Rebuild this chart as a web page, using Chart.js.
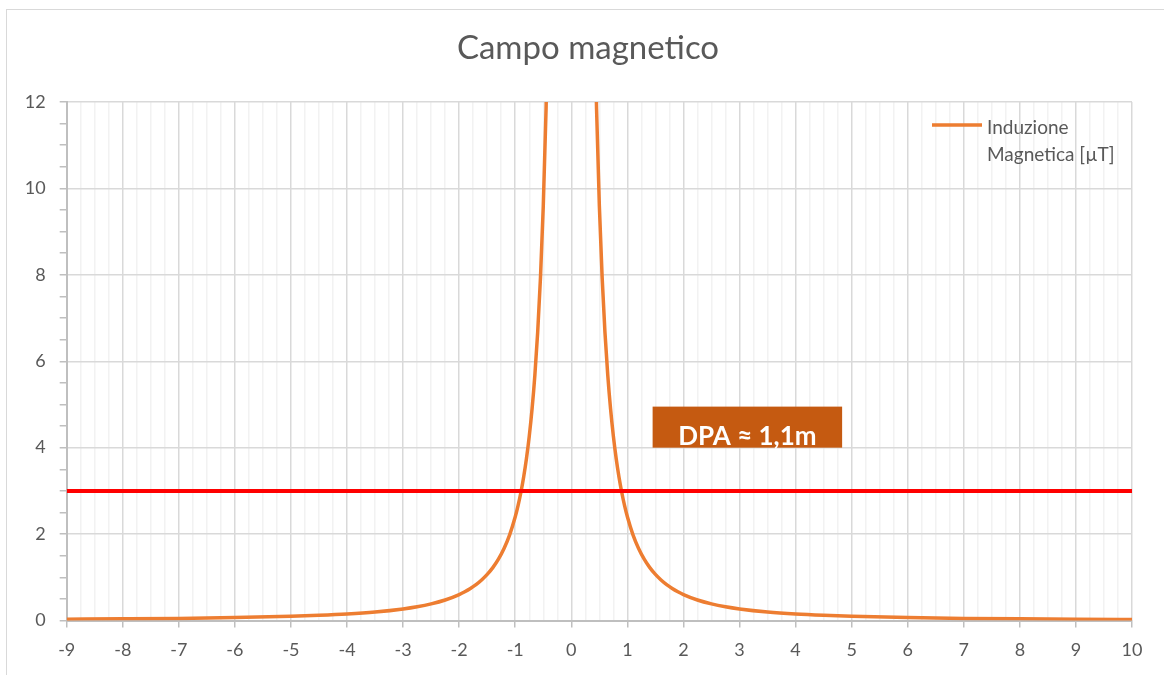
<!DOCTYPE html>
<html>
<head>
<meta charset="utf-8">
<script src="https://cdn.jsdelivr.net/npm/chart.js@4.4.1/dist/chart.umd.min.js"></script>
<style>
  html, body { margin: 0; padding: 0; background: #ffffff; }
  body { width: 1164px; height: 675px; position: relative; overflow: hidden; }
  #frame { position: absolute; left: 6px; top: 9px; width: 1170px; height: 700px; border: 1.5px solid #d9d9d9; box-sizing: border-box; }
  #c { position: absolute; left: 0; top: 0; }
</style>
</head>
<body>
<div id="frame"></div>
<canvas id="c" width="1164" height="675"></canvas>
<script>
// ---- data ----
const chartTitle = 'Campo magnetico';
const seriesName = 'Induzione Magnetica [µT]';
const distance = [
  -9, -8, -7, -6, -5, -4.5, -4, -3.5, -3, -2.75, -2.5, -2.25, -2, -1.9, -1.8, -1.7, -1.6, -1.5,
  -1.4, -1.3, -1.2, -1.1, -1.0, -0.95, -0.9, -0.85, -0.8, -0.75, -0.7, -0.65, -0.6, -0.55, -0.5,
  -0.45, -0.4, -0.35, -0.3,
  0.3, 0.35, 0.4, 0.45, 0.5, 0.55, 0.6, 0.65, 0.7, 0.75, 0.8, 0.85, 0.9, 0.95, 1.0, 1.1, 1.2,
  1.3, 1.4, 1.5, 1.6, 1.7, 1.8, 1.9, 2, 2.25, 2.5, 2.75, 3, 3.5, 4, 4.5, 5, 6, 7, 8, 9, 10
];
const induction = [
  0.030, 0.038, 0.049, 0.067, 0.096, 0.119, 0.150, 0.196, 0.267, 0.317, 0.384, 0.474, 0.600, 0.665, 0.741, 0.830, 0.938, 1.067,
  1.224, 1.420, 1.667, 1.983, 2.400, 2.659, 2.963, 3.322, 3.750, 4.267, 4.898, 5.680, 6.667, 7.934, 9.600,
  11.85, 15.00, 19.59, 26.67,
  26.67, 19.59, 15.00, 11.85, 9.600, 7.934, 6.667, 5.680, 4.898, 4.267, 3.750, 3.322, 2.963, 2.659, 2.400, 1.983, 1.667,
  1.420, 1.224, 1.067, 0.938, 0.830, 0.741, 0.665, 0.600, 0.474, 0.384, 0.317, 0.267, 0.196, 0.150, 0.119, 0.096, 0.067, 0.049, 0.038, 0.030, 0.024
];
const limitX = [-9, 10];
const limitY = [3, 3];
const dpaLabel = 'DPA ≈ 1,1m';

const FONT = 'Lato';
const TXT = '#595959';

const curvePts = distance.map((x, i) => ({ x: x, y: induction[i] }));
const limitPts = limitX.map((x, i) => ({ x: x, y: limitY[i] }));

const isInt = v => Math.abs(v - Math.round(v)) < 1e-6;

const overlayPlugin = {
  id: 'overlay',
  afterLayout(chart) {
    // centre the title over the whole framed chart, as in the original
    if (chart.titleBlock) chart.titleBlock.left += 44;
  },
  afterDatasetsDraw(chart, args, opts) {
    const ctx = chart.ctx;
    const xs = chart.scales.x, ys = chart.scales.y;
    // DPA box
    const b = opts.box;
    const x1 = xs.getPixelForValue(b.xMin), x2 = xs.getPixelForValue(b.xMax);
    const y1 = ys.getPixelForValue(b.yMax), y2 = ys.getPixelForValue(b.yMin);
    ctx.save();
    ctx.fillStyle = '#c55a11';
    ctx.fillRect(x1, y1, x2 - x1, y2 - y1);
    ctx.fillStyle = '#ffffff';
    ctx.font = 'bold 26px ' + FONT;
    ctx.textAlign = 'center';
    ctx.textBaseline = 'alphabetic';
    ctx.fillText(b.text, (x1 + x2) / 2, y2 - 3);
    ctx.restore();

    // legend (inside plot area, top right)
    const ca = chart.chartArea;
    const ds = chart.data.datasets[1];
    ctx.save();
    ctx.strokeStyle = ds.borderColor;
    ctx.lineWidth = 3.5;
    ctx.beginPath();
    ctx.moveTo(ca.right - 200, ca.top + 23);
    ctx.lineTo(ca.right - 150, ca.top + 23);
    ctx.stroke();
    ctx.fillStyle = TXT;
    ctx.font = '19px ' + FONT;
    ctx.textAlign = 'left';
    ctx.textBaseline = 'alphabetic';
    const words = ds.label.split(' ');
    ctx.fillText(words[0], ca.right - 145, ca.top + 31.5);
    ctx.fillText(words.slice(1).join(' '), ca.right - 145, ca.top + 58.7);
    ctx.restore();
  }
};

new Chart(document.getElementById('c'), {
  type: 'scatter',
  data: {
    datasets: [
      {
        label: 'Limite',
        data: limitPts,
        showLine: true,
        borderColor: '#ff0000',
        borderWidth: 4,
        pointRadius: 0,
        clip: 0
      },
      {
        label: seriesName,
        data: curvePts,
        showLine: true,
        borderColor: '#ed7d31',
        borderWidth: 3.5,
        pointRadius: 0,
        cubicInterpolationMode: 'monotone',
        clip: 0
      }
    ]
  },
  options: {
    responsive: false,
    animation: false,
    devicePixelRatio: 1,
    layout: { padding: { left: 0, right: 32, top: 0, bottom: 0 } },
    plugins: {
      legend: { display: false },
      tooltip: { enabled: false },
      title: {
        display: true,
        text: chartTitle,
        color: TXT,
        font: { family: FONT, size: 33, weight: 'normal', lineHeight: 1.2 },
        padding: { top: 29, bottom: 33.4 }
      },
      overlay: { box: { xMin: 1.45, xMax: 4.83, yMin: 4.0, yMax: 4.95, text: dpaLabel } }
    },
    scales: {
      x: {
        type: 'linear',
        min: -9,
        max: 10,
        afterFit(scale) { scale.height = 54.5; },
        border: { color: '#bfbfbf', width: 2 },
        grid: {
          lineWidth: 1.5,
          tickLength: 7,
          color: c => isInt(c.tick.value) ? '#d9d9d9' : '#f2f2f2',
          tickColor: c => isInt(c.tick.value) ? '#bfbfbf' : 'rgba(0,0,0,0)',
          tickWidth: 1.5
        },
        ticks: {
          stepSize: 0.25,
          autoSkip: false,
          maxRotation: 0,
          color: TXT,
          padding: 12,
          font: { family: FONT, size: 18 },
          callback: v => isInt(v) ? String(Math.round(v)) : ''
        }
      },
      y: {
        type: 'linear',
        min: 0,
        max: 12,
        afterFit(scale) { scale.width = 66.7; },
        border: { color: '#bfbfbf', width: 2 },
        grid: {
          lineWidth: 1.5,
          tickLength: 7,
          color: c => (isInt(c.tick.value) && Math.round(c.tick.value) % 2 === 0) ? '#d9d9d9' : 'rgba(0,0,0,0)',
          tickColor: '#bfbfbf',
          tickWidth: 1.5
        },
        ticks: {
          stepSize: 0.5,
          autoSkip: false,
          color: TXT,
          padding: 14,
          font: { family: FONT, size: 18 },
          callback: v => (isInt(v) && Math.round(v) % 2 === 0) ? String(Math.round(v)) : ''
        }
      }
    }
  },
  plugins: [overlayPlugin]
});
</script>
</body>
</html>
